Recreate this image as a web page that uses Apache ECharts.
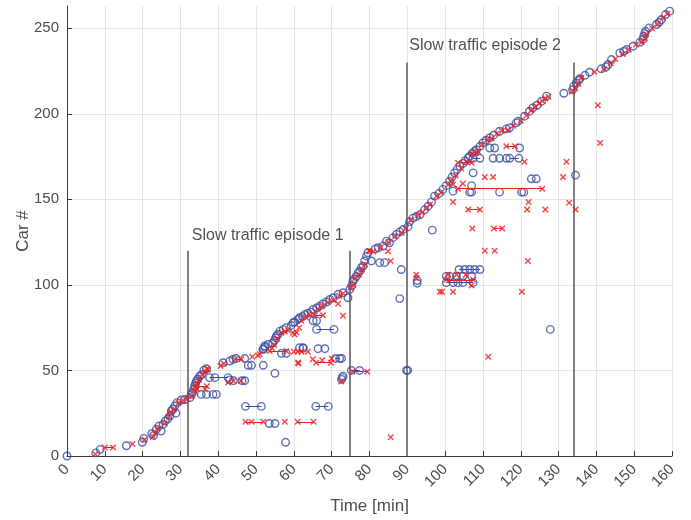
<!DOCTYPE html>
<html><head><meta charset="utf-8">
<script src="https://cdn.jsdelivr.net/npm/echarts@6/dist/echarts.min.js"></script>
<style>html,body{margin:0;padding:0;background:#fff}#c{width:691px;height:520px}</style>
</head><body><div id="c"></div>
<script>
// ---- data ----
const xTicks = [0,10,20,30,40,50,60,70,80,90,100,110,120,130,140,150,160];
const yTicks = [0,50,100,150,200,250];

// cars on the main (free-flow) curve: [time, car]
const mainBlue = [
[0,0],[7.6,1.8],[8.8,3.9],[15.7,6],[19.9,8],[20.3,10.3],[22.4,13],[22.9,12],[23.6,15.6],[24.3,17.5],[24.9,14.6],[25.4,18.5],[26,20.5],[26.7,21.8],[27.2,23.5],[27.6,26.3],[28,27.5],[28.5,29.2],[28.8,25],[29.1,31.2],[30.2,32.7],[31.1,33],[32.5,34.1],[32.9,36],[33.2,37],[33.5,39],[33.8,40.9],[34,42.5],[34.2,43.8],[34.6,45],[35.1,46.7],[35.6,47.5],[36.2,50.2],[36.9,51],
[41.3,54.5],[43,55.5],[43.9,56.5],[44.7,57],[47,57],
[51.8,62.3],[52.3,64.3],[53.2,65.2],[54.4,66],[54.9,67.5],[55.2,69],[55.4,70.2],[55.8,71],[56.3,73],[57.2,74],[58,75],[59.3,76.3],[59.8,77.9],[60.2,78.3],[61.1,79.8],[61.5,80.8],[62.3,81.5],[62.9,82.8],[63.7,83.4],[64.6,84.1],[65.1,85.7],[66,86.5],[66.8,87.6],[67.6,88.8],[68.6,90],[69.5,91.5],[70.4,92.5],[71.7,94.5],[73,95.4],[74.8,97.4],[75.3,99.5],[75.6,102],[76,103.5],[76.5,105],[77,107],[77.4,108],[77.8,110],[78.3,111],[78.7,114],[79.2,116.8],[79.6,118.8],[81.5,121],[82.3,121.7],[83.6,122.7],[84.5,125.6],[85.3,124.6],[86.2,127.6],[87.1,129.5],[88,131],[88.9,132.4],[90.2,134],[90.6,137],[91.5,139],[92.4,140],[93.3,141],[94.6,144],[95.5,146],[96.4,148.5],[97.2,151.9],[98.4,153.5],[99.4,155.8],[100.3,158],[101.2,160.6],[101.8,163],[102.5,165.5],[103.2,167.5],[103.9,169.4],[104.8,171],[105.3,172.5],[106.1,174.3],[106.5,175.2],[107.2,177],[107.8,178.2],[108.3,179],[109.2,181],[110,183],[110.8,184.5],[111.8,186],[112.8,187.5],[114.4,189.8],[116.2,191.2],[117,191.8],[118.8,194.7],[119.3,195.7],[121,198.6],[122.3,201.5],[123.2,203.5],[124.3,205],[125.5,207.4],[126.8,210.3],
[131.4,212],[133.7,214],[134,216],[134.7,218],[135.3,219.5],[135.6,220.5],[137,222.5],[138.2,224.3],[141.3,226.3],[142.6,227.5],[143.1,228.8],[144,231.7],[146.2,235.6],[147.2,236.5],[148,237.6],[149.7,239.5],[151.5,241.8],[152.3,243.5],[152.5,245.3],[152.8,247],[153,248.2],[153.9,250.2],[155.9,252.2],[156.6,253.5],[157.2,255],[158.3,258],[159.4,260]
];
const mainRed = [
[7.5,1],[17.3,7],[20.5,9.5],[22.7,11.3],[23.3,13.5],[24,16],[25.8,19],[26.9,23],[27.3,25.5],[28.2,27],[29.5,31],[30.7,32.5],[31.8,33.5],[33,35],[33.6,38.5],[34.3,42],[34.9,44.5],[35.7,47.5],[36.5,49.5],[37,51],[37.3,50.5],[40.6,52.6],[41.5,54],[49,58],[50.5,58.8],[51,59.5],[54.2,63],[54.8,65],[55.6,68.5],[56.7,72.1],[57.6,72.7],[58.5,73.5],[59.8,72],[60.7,72.2],[61.4,75],[62,79],[63.2,81],[64,83],[66.3,86],[67.5,87.6],[69,89.8],[70.5,91],[72,93.5],[73,95],[75,98.5],[75.7,100],[76.2,104],[77.2,106],[78,109],[78.8,112],[79.9,120],[81,119.5],[83,122],[85,125],[86.8,128.5],[88.5,130.5],[89.6,133],[91,138],[92.8,140.8],[94,142.5],[95.1,145],[96,147],[97.8,152],[99,154],[100.8,158.5],[101.5,161],[102.8,164],[104.3,168],[105.6,172],[107,176.5],[108.1,177.5],[108.7,178],[109.7,182],[111.2,185],[112.3,185.5],[113.7,188.5],[115,190],[116.6,190.5],[118,193],[120,196],[121.5,199],[122.8,202],[123.8,204],[124.9,206],[125.7,207.5],[126.5,209],[127.3,210],[133.5,213],[134.4,215],[135.2,217.5],[136,221],[139.5,224.5],[142,226],[143.8,229.5],[145,232],[147,235],[148.6,237.5],[150.5,240.5],[152,242],[152.8,244],[153.2,246.5],[154.7,250],[156.2,252.5],[157.6,256],[158.8,258.5]
];

// cars observed off the main curve
const offBlue = [
[35.5,36],[36.9,36],[38.6,36],[39.5,36],[39.1,45.8],[43,44.5],[44,44],[46.3,44],[47,44],[47.9,53],[48.8,53],[51.9,53],[53.5,19],[55,19],[57.8,8],[55,48.3],[52,62.5],[52.3,63.5],[56.7,60],[58,60],[61.5,63.3],[62.4,63.3],[66.4,62.7],[68.2,62.7],[62.5,63],[65.1,79],[66,79],[72.6,44.8],[72.8,45.8],[73,46.7],[72.6,57],[74.3,92.5],[80.5,114],[82.7,113],[84,113],
[88,92],[88.4,109],[89.8,50],[90.1,50],[92.6,101],[92.6,102.5],[96.6,132],[127.8,74],[122.8,162],[124.1,162],[134.5,164.1],[102.1,154.8],[107,158],[107.4,165.5],[113.1,180],[111.8,180],[119.7,180],[106.5,154.2],[107,154.2],[114.4,154.2],[120.2,154.2],[120.8,154.2],[112.7,174],[114.4,174],[116.2,174],
[100.3,105],[101.2,105],[103,105],[104.7,105],[107,105],[102.1,101.3],[103.4,101.3],[104.7,101.3],[105.2,109],[106.5,109],[107.8,109]
];
const offRed = [
[34.5,39],[36.5,39],[42.6,43],[44,44],[46,44],[48.8,20],[57.6,20],[61.2,54],[60.2,71],[60,61],[61,61],[62,61],[63.7,61],[65,56.5],[67.5,56],[70,57],[61.1,54.6],[71.7,89],[73,82],[72.5,43.5],[80,119.7],[84.9,119.7],[85.6,114],[85.6,11],[92.4,106],[92.4,104],[98.6,96],[99.2,96],[102.1,96],[120.3,96],[102.1,148.4],[107.2,133],[110.5,120],[113.1,120],[121.9,114],[122.1,148.4],[121.7,144],[126.5,144],[131.2,163],[132.1,172],[121,172],[140.4,205],[141,183],[111.4,58],[132.8,148],[134.5,144],[110.5,163],[112.7,163],[102.1,158.7],[104.7,159.3],[100.8,106],[103,106],[105.5,106],[107,99.7]
];

// pairs of observations of the same car, joined by a line
const blueLinks = [
[[37.7,45.8],[42.6,45.8]],[[47.2,29],[51.4,29]],[[65.8,29],[69.1,29]],[[66,74],[70.6,74]],[[75.2,50],[77.4,50]],[[71,57],[72.1,57]],[[107.4,174],[109.2,174]],[[117.1,174],[119.5,174]],[[103.7,109],[109.2,109]],[[100.3,101.3],[107.4,101.3]]
];
const redLinks = [
[[10,5],[12.2,5]],[[34,40.8],[37,40.8]],[[44.5,56.5],[46.1,56.5]],[[47.2,20],[51.9,20]],[[61,20],[65.2,20]],[[53.6,61.3],[58,61.3]],[[65.5,82.2],[67.7,82.2]],[[65.9,54.5],[69.8,54.5]],[[75.5,49.3],[79.4,49.3]],[[103.4,156.2],[125.7,156.2]],[[100.3,103],[107.4,103]],[[106.1,144],[109.2,144]],[[112.9,133],[115.1,133]],[[116.2,181],[118.5,181]],[[103.4,171.4],[107,171.4]]
];

// episode boundaries: [time, top of marker]
const episodeLines = [[31.9,120],[74.8,120],[89.9,230],[134,230]];
const episodeLabels = [["Slow traffic episode 1",33,129],["Slow traffic episode 2",90.5,240]];

// ---- chart ----
const BLUE = '#3a4fa3', RED = '#f01e1e';
const XPATH = 'path://M0,1.6 L1.6,0 L5,3.4 L8.4,0 L10,1.6 L6.6,5 L10,8.4 L8.4,10 L5,6.6 L1.6,10 L0,8.4 L3.4,5 Z';
const linkEnds = l => l.flatMap(p => p);

const chart = echarts.init(document.getElementById('c'), null, {renderer:'canvas'});
chart.setOption({
  animation:false,
  grid:{left:67,right:19,top:6,bottom:63,containLabel:false},
  xAxis:{type:'value',min:0,max:160,interval:10,
    name:'Time [min]',nameLocation:'middle',nameGap:42,
    nameTextStyle:{fontFamily:'Liberation Sans',fontSize:17,color:'#4d4d4d'},
    axisLine:{lineStyle:{color:'#3a3a3a',width:1}},
    axisTick:{inside:true,length:5,lineStyle:{color:'#3a3a3a'}},
    axisLabel:{rotate:45,fontFamily:'Liberation Sans',fontSize:15,color:'#4d4d4d',margin:11,
      formatter:v=>xTicks.includes(v)?String(v):''},
    splitLine:{show:true,lineStyle:{color:'#e5e5e5',width:1}}},
  yAxis:{type:'value',min:0,max:263,interval:50,
    name:'Car #',nameLocation:'middle',nameGap:35,nameMoveOverlap:false,
    nameTextStyle:{fontFamily:'Liberation Sans',fontSize:17,color:'#4d4d4d'},
    axisLine:{show:true,lineStyle:{color:'#3a3a3a',width:1}},
    axisTick:{show:true,inside:true,length:5,lineStyle:{color:'#3a3a3a'}},
    axisLabel:{fontFamily:'Liberation Sans',fontSize:15,color:'#4d4d4d',margin:8,showMaxLabel:false,
      formatter:v=>yTicks.includes(v)?String(v):''},
    splitLine:{show:true,showMaxLine:false,lineStyle:{color:'#e5e5e5',width:1}}},
  series:[
    {type:'lines',coordinateSystem:'cartesian2d',z:3,silent:true,
      lineStyle:{color:'#808080',width:2,opacity:1},
      data:episodeLines.map(e=>({coords:[[e[0],0],[e[0],e[1]]]}))},
    {type:'lines',coordinateSystem:'cartesian2d',z:4,silent:true,
      lineStyle:{color:BLUE,width:1,opacity:1},
      data:blueLinks.map(l=>({coords:l}))},
    {type:'scatter',z:5,symbol:'circle',symbolSize:7.5,
      itemStyle:{color:'rgba(0,0,0,0)',borderColor:BLUE,borderWidth:1.4},
      data:mainBlue.concat(offBlue,linkEnds(blueLinks))},
    {type:'lines',coordinateSystem:'cartesian2d',z:6,silent:true,
      lineStyle:{color:RED,width:1,opacity:1},
      data:redLinks.map(l=>({coords:l}))},
    {type:'scatter',z:7,symbol:XPATH,symbolSize:6.5,
      itemStyle:{color:RED},
      data:mainRed.concat(offRed,linkEnds(redLinks))},
    {type:'scatter',z:8,symbolSize:0,silent:true,
      label:{show:true,position:'right',distance:0,formatter:p=>p.data[2],
        fontFamily:'Liberation Sans',fontSize:16,color:'#262626'},
      data:episodeLabels.map(e=>[e[1],e[2],e[0]])}
  ]
});
</script></body></html>
